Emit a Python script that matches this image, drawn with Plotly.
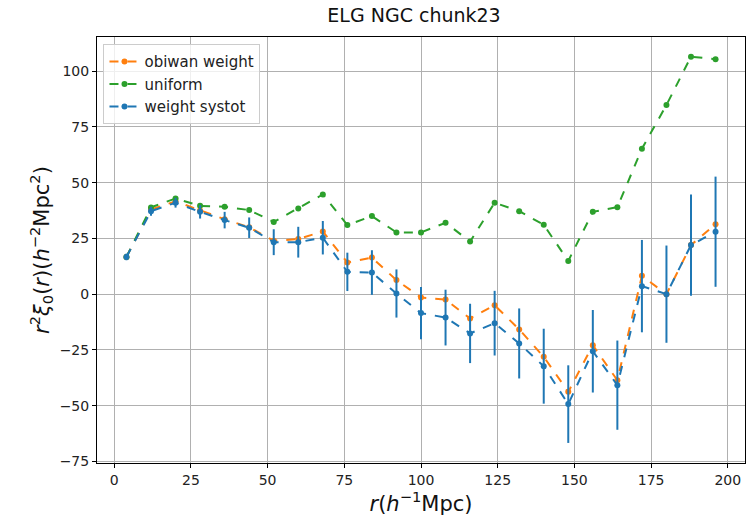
import plotly.graph_objects as go

r = [4, 12, 20, 28, 36, 44, 52, 60, 68, 76, 84, 92, 100, 108, 116, 124, 132, 140, 148, 156, 164, 172, 180, 188, 196]
obiwan = [16.7, 38.0, 41.6, 37.5, 33.6, 30.0, 23.9, 24.7, 28.1, 14.2, 16.4, 6.3, -1.5, -2.4, -10.9, -5.0, -15.8, -28.1, -43.8, -22.9, -38.6, 8.2, 0.0, 22.0, 31.4]
uniform = [16.7, 38.9, 42.9, 39.6, 39.2, 37.7, 32.4, 38.4, 44.7, 31.0, 35.0, 27.7, 27.7, 32.0, 23.6, 41.0, 37.2, 31.1, 14.9, 36.9, 39.0, 65.2, 84.8, 106.5, 105.3]
systot = [16.7, 37.2, 41.0, 36.9, 33.2, 29.8, 23.3, 23.3, 25.3, 10.0, 9.7, 0.3, -8.5, -10.5, -17.6, -13.0, -22.1, -32.3, -49.3, -25.6, -40.8, 3.6, 0.0, 22.0, 28.0]
systot_err = [1.5, 2.0, 2.2, 3.0, 3.7, 4.6, 5.8, 6.9, 7.5, 8.6, 10.0, 10.8, 11.7, 12.5, 13.3, 14.5, 15.7, 16.8, 17.4, 18.5, 20.0, 20.7, 21.8, 22.7, 24.7]

BLUE = "#1f77b4"
ORANGE = "#ff7f0e"
GREEN = "#2ca02c"

fig = go.Figure()
fig.add_trace(go.Scatter(
    x=r, y=obiwan, name="obiwan weight", mode="lines+markers",
    line=dict(color=ORANGE, dash="dash", width=2),
    marker=dict(color=ORANGE, size=6),
))
fig.add_trace(go.Scatter(
    x=r, y=uniform, name="uniform", mode="lines+markers",
    line=dict(color=GREEN, dash="dash", width=2),
    marker=dict(color=GREEN, size=6),
))
fig.add_trace(go.Scatter(
    x=r, y=systot, name="weight systot", mode="lines+markers",
    line=dict(color=BLUE, dash="dash", width=2),
    marker=dict(color=BLUE, size=6),
    error_y=dict(type="data", array=systot_err, visible=True, color=BLUE, thickness=2, width=0),
))

axis_common = dict(
    showline=True, linecolor="black", linewidth=1, mirror=True,
    ticks="outside", ticklen=4, tickcolor="black",
    showgrid=True, gridcolor="#b0b0b0", gridwidth=1,
    zeroline=False,
    tickfont=dict(family="DejaVu Sans", size=14, color="#222"),
)

fig.update_layout(
    width=746, height=522,
    margin=dict(l=97, r=1, t=37, b=59),
    paper_bgcolor="white", plot_bgcolor="white",
    title=dict(text="ELG NGC chunk23", x=0.555, xanchor="center", y=0.97, yanchor="middle",
               font=dict(family="DejaVu Sans", size=19, color="#111")),
    font=dict(family="DejaVu Sans", color="#222"),
    showlegend=True,
    legend=dict(x=0.01, y=0.983, xanchor="left", yanchor="top",
                bgcolor="rgba(255,255,255,0.8)", bordercolor="#cccccc", borderwidth=1,
                font=dict(family="DejaVu Sans", size=15, color="#222"),
                tracegroupgap=0, itemwidth=30),
    xaxis=dict(range=[-5.6, 205.6], tickvals=[0, 25, 50, 75, 100, 125, 150, 175, 200],
               title=dict(text="<i>r</i>(<i>h</i><sup>−1</sup>Mpc)", font=dict(family="DejaVu Sans", size=21, color="#111"), standoff=6),
               **axis_common),
    yaxis=dict(range=[-75.7, 115.3], tickvals=[-75, -50, -25, 0, 25, 50, 75, 100],
               title=dict(text="<i>r</i><sup>2</sup><i>ξ</i><sub>0</sub>(<i>r</i>)(<i>h</i><sup>−2</sup>Mpc<sup>2</sup>)",
                          font=dict(family="DejaVu Sans", size=21, color="#111"), standoff=4),
               **axis_common),
)

fig.write_html("out.html", config={"displayModeBar": False},
               post_script="document.body.style.margin='0';document.body.style.overflow='hidden';")
